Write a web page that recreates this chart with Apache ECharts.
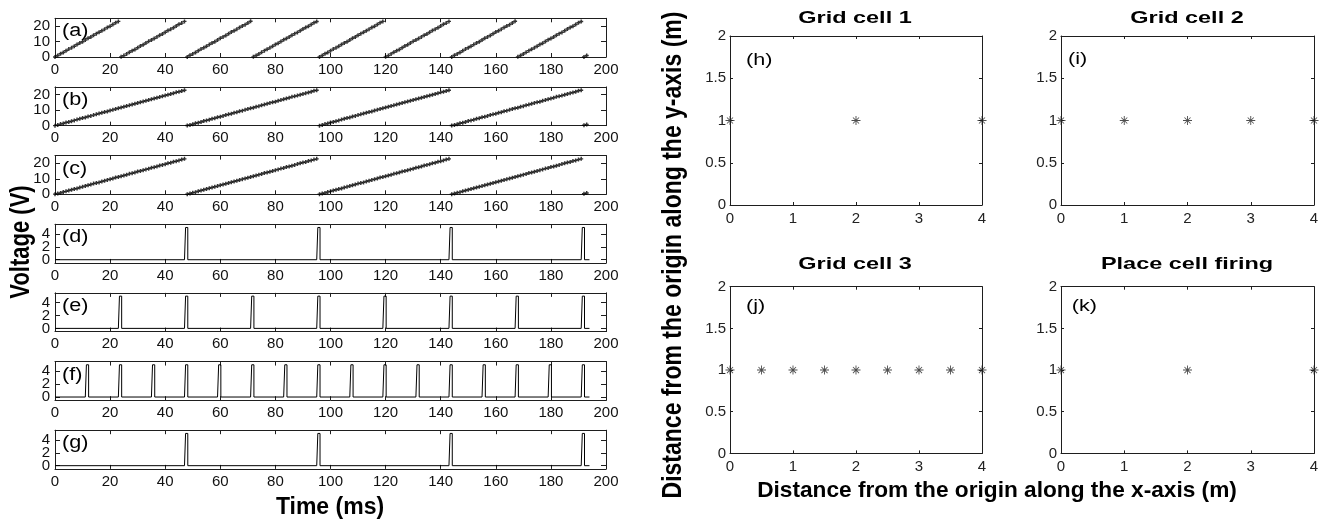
<!DOCTYPE html>
<html><head><meta charset="utf-8">
<script src="https://cdn.jsdelivr.net/npm/echarts@6/dist/echarts.min.js"></script>
<style>html,body{margin:0;padding:0;background:#fff}#c{width:1325px;height:522px}</style>
</head><body><div id="c"></div>
<script>
// ---------- DATA ----------
// membrane traces sampled every 1 ms (index = time in ms)
const sawA = [
0,1.0,2.1,2.9,4.0,5.1,5.9,7.0,8.1,9.0,9.9,11.0,12.1,12.9,14.0,15.1,16.0,16.9,18.0,19.1,19.9,21.0,22.1,23.0,
0.1,0.9,2.0,3.1,4.0,4.9,6.0,7.1,7.9,9.0,10.1,11.0,11.9,13.0,14.1,14.9,16.0,17.1,18.0,18.9,20.0,21.1,21.9,23.0,
0,1.1,2.0,2.9,4.0,5.1,6.0,6.9,8.0,9.1,9.9,11.0,12.1,13.0,13.9,15.0,16.1,16.9,18.0,19.1,20.0,20.9,22.0,23.1,
0.1,1.0,1.9,3.0,4.1,5.0,5.9,7.0,8.1,8.9,10.0,11.1,12.0,12.9,14.0,15.1,15.9,17.0,18.1,19.0,19.9,21.0,22.1,22.9,
0,1.0,2.1,2.9,4.0,5.1,5.9,7.0,8.1,9.0,9.9,11.0,12.1,12.9,14.0,15.1,16.0,16.9,18.0,19.1,19.9,21.0,22.1,23.0,
0.1,0.9,2.0,3.1,4.0,4.9,6.0,7.1,7.9,9.0,10.1,11.0,11.9,13.0,14.1,14.9,16.0,17.1,18.0,18.9,20.0,21.1,21.9,23.0,
0,1.1,2.0,2.9,4.0,5.1,6.0,6.9,8.0,9.1,9.9,11.0,12.1,13.0,13.9,15.0,16.1,16.9,18.0,19.1,20.0,20.9,22.0,23.1,
0.1,1.0,1.9,3.0,4.1,5.0,5.9,7.0,8.1,8.9,10.0,11.1,12.0,12.9,14.0,15.1,15.9,17.0,18.1,19.0,19.9,21.0,22.1,22.9,
0,1.0];
const sawB = [
0,0.5,1.0,1.4,2.0,2.4,2.9,3.4,3.9,4.4,4.9,5.3,5.9,6.3,6.8,7.3,7.8,8.3,8.8,9.2,9.8,10.2,10.7,11.2,11.7,12.2,12.7,13.1,13.7,14.1,14.6,15.1,15.6,16.1,16.6,17.0,17.6,18.0,18.5,19.0,19.5,20.0,20.5,20.9,21.5,21.9,22.4,22.9,
0.1,0.5,0.9,1.5,1.9,2.4,3.0,3.4,3.8,4.4,4.8,5.4,5.8,6.3,6.9,7.3,7.7,8.3,8.7,9.3,9.7,10.2,10.8,11.2,11.6,12.2,12.6,13.2,13.6,14.1,14.7,15.1,15.5,16.1,16.5,17.1,17.5,18.0,18.6,19.0,19.4,20.0,20.4,21.0,21.4,21.9,22.5,22.9,
0,0.5,1.0,1.4,2.0,2.4,2.9,3.4,3.9,4.4,4.9,5.3,5.9,6.3,6.8,7.3,7.8,8.3,8.8,9.2,9.8,10.2,10.7,11.2,11.7,12.2,12.7,13.1,13.7,14.1,14.6,15.1,15.6,16.1,16.6,17.0,17.6,18.0,18.5,19.0,19.5,20.0,20.5,20.9,21.5,21.9,22.4,22.9,
0.1,0.5,0.9,1.5,1.9,2.4,3.0,3.4,3.8,4.4,4.8,5.4,5.8,6.3,6.9,7.3,7.7,8.3,8.7,9.3,9.7,10.2,10.8,11.2,11.6,12.2,12.6,13.2,13.6,14.1,14.7,15.1,15.5,16.1,16.5,17.1,17.5,18.0,18.6,19.0,19.4,20.0,20.4,21.0,21.4,21.9,22.5,22.9,
0.3,0.8];
const sawC = [
0.1,0.5,0.9,1.5,1.9,2.4,3.0,3.4,3.8,4.4,4.8,5.4,5.8,6.3,6.9,7.3,7.7,8.3,8.7,9.3,9.7,10.2,10.8,11.2,11.6,12.2,12.6,13.2,13.6,14.1,14.7,15.1,15.5,16.1,16.5,17.1,17.5,18.0,18.6,19.0,19.4,20.0,20.4,21.0,21.4,21.9,22.5,22.9,
0,0.5,1.0,1.4,2.0,2.4,2.9,3.4,3.9,4.4,4.9,5.3,5.9,6.3,6.8,7.3,7.8,8.3,8.8,9.2,9.8,10.2,10.7,11.2,11.7,12.2,12.7,13.1,13.7,14.1,14.6,15.1,15.6,16.1,16.6,17.0,17.6,18.0,18.5,19.0,19.5,20.0,20.5,20.9,21.5,21.9,22.4,22.9,
0.1,0.5,0.9,1.5,1.9,2.4,3.0,3.4,3.8,4.4,4.8,5.4,5.8,6.3,6.9,7.3,7.7,8.3,8.7,9.3,9.7,10.2,10.8,11.2,11.6,12.2,12.6,13.2,13.6,14.1,14.7,15.1,15.5,16.1,16.5,17.1,17.5,18.0,18.6,19.0,19.4,20.0,20.4,21.0,21.4,21.9,22.5,22.9,
0,0.5,1.0,1.4,2.0,2.4,2.9,3.4,3.9,4.4,4.9,5.3,5.9,6.3,6.8,7.3,7.8,8.3,8.8,9.2,9.8,10.2,10.7,11.2,11.7,12.2,12.7,13.1,13.7,14.1,14.6,15.1,15.6,16.1,16.6,17.0,17.6,18.0,18.5,19.0,19.5,20.0,20.5,20.9,21.5,21.9,22.4,22.9,
0.3,0.8];
// spike onset times (ms) and pulse shape
const spikeOnsetsD = [47,95,143,191];
const spikeOnsetsE = [23,47,71,95,119,143,167,191];
const spikeOnsetsF = [11,23,35,47,59,71,83,95,107,119,131,143,155,167,179,191];
const spikeOnsetsG = [47,95,143,191];
const pulseDt = [0,0.4,1.2,1.2];
const pulseV  = [0,5,5,0];
const traceEnd = 194;
// tick labels
const timeTicks = [0,20,40,60,80,100,120,140,160,180,200];
const membraneTicks = [0,10,20];
const voltTicks = [0,2,4];
const distXTicks = [0,1,2,3,4];
const distYTicks = [0,0.5,1,1.5,2];
// place / grid cell firing positions (m)
const gridCell1X = [0,2,4];            const gridCell1Y = [1,1,1];
const gridCell2X = [0,1,2,3,4];        const gridCell2Y = [1,1,1,1,1];
const gridCell3X = [0,0.5,1,1.5,2,2.5,3,3.5,4]; const gridCell3Y = [1,1,1,1,1,1,1,1,1];
const placeCellX = [0,2,4];            const placeCellY = [1,1,1];

// ---------- BUILD ----------
const AX = '#1e1e1e';
const grids = [], xAxes = [], yAxes = [], series = [];
function labelOpt(lab, vals, margin){
  return {show:true, customValues:vals, fontFamily:lab.fontFamily, fontSize:lab.fontSize, color:lab.color,
    margin:margin, showMinLabel:true, showMaxLabel:true, hideOverlap:false};
}
// splitLabels: y tick labels drawn by two stacked axes so tightly packed labels all stay visible
function addPanel(rect, xr, yr, xt, yt, lab, tlx, tly, splitLabels){
  const g = grids.length;
  grids.push(Object.assign({show:false}, rect));
  const mk = (pos, isX, labVals) => ({
    gridIndex:g, type:'value', position:pos,
    min: isX ? xr[0] : yr[0], max: isX ? xr[1] : yr[1],
    axisLine:{show:true, onZero:false, lineStyle:{color:AX, width:1}},
    axisTick:{show:true, inside:true, length: isX ? tlx : tly, customValues: isX ? xt : yt, lineStyle:{color:AX, width:1}},
    axisLabel: labVals ? labelOpt(lab, labVals, isX ? lab.mx : lab.my) : {show:false},
    splitLine:{show:false}
  });
  const xi = xAxes.length, yi = yAxes.length;
  xAxes.push(mk('bottom', true, xt)); xAxes.push(mk('top', true, null));
  if (splitLabels) {
    yAxes.push(mk('left', false, yt.filter((v,k)=>k%2===0)));
    yAxes.push(mk('right', false, null));
    const extra = mk('left', false, yt.filter((v,k)=>k%2===1));
    extra.axisLine = {show:false, onZero:false}; extra.axisTick = {show:false}; extra.offset = 0;
    yAxes.push(extra);
  } else {
    yAxes.push(mk('left', false, yt)); yAxes.push(mk('right', false, null));
  }
  return [xi, yi];
}
const leftLab = {fontFamily:'"Liberation Sans", Arial, sans-serif', fontSize:15, color:'#111', mx:5, my:5};
const rightLab = {fontFamily:'"Liberation Sans", Arial, sans-serif', fontSize:15, color:'#222', mx:6, my:4};
const plusSym = 'path://M0,1.6H5V3.4H0ZM1.6,0H3.4V5H1.6Z';
const starSym = 'path://M0,4.5H10V5.5H0ZM4.5,0H5.5V10H4.5ZM1.3,1.95L1.95,1.3L8.7,8.05L8.05,8.7ZM8.05,1.3L8.7,1.95L1.95,8.7L1.3,8.05Z';

const leftTops = [18.3, 86.95, 155.6, 224.25, 292.9, 361.55, 430.2];
const leftRect = i => ({left:55, top:leftTops[i], width:551, height:38.7});
function sawSeries(ax, arr){
  series.push({type:'scatter', xAxisIndex:ax[0], yAxisIndex:ax[1], symbol:plusSym, symbolSize:4, clip:false,
    itemStyle:{color:'#000'}, data: arr.map((v,i)=>[i,v])});
}
function pulseSeries(ax, onsets){
  const d = [[0,0]];
  onsets.forEach(t => pulseDt.forEach((dt,k) => d.push([t+dt, pulseV[k]])));
  d.push([traceEnd,0]);
  series.push({type:'line', xAxisIndex:ax[0], yAxisIndex:ax[1], showSymbol:false, symbol:'none',
    lineStyle:{color:'#000', width:1}, data:d});
}
[sawA, sawB, sawC].forEach((arr,i) => {
  const ax = addPanel(leftRect(i), [0,200], [0,25], timeTicks, membraneTicks, leftLab, 4, 5, false);
  sawSeries(ax, arr);
});
[spikeOnsetsD, spikeOnsetsE, spikeOnsetsF, spikeOnsetsG].forEach((on,i) => {
  const ax = addPanel(leftRect(i+3), [0,200], [-0.5,5.5], timeTicks, voltTicks, leftLab, 4, 5, true);
  pulseSeries(ax, on);
});
const rightRects = [
  {left:730, top:36, width:252, height:169},
  {left:1061, top:36, width:253, height:169},
  {left:730, top:286.7, width:252, height:166.7},
  {left:1061, top:286.7, width:253, height:166.7}
];
[[gridCell1X,gridCell1Y],[gridCell2X,gridCell2Y],[gridCell3X,gridCell3Y],[placeCellX,placeCellY]].forEach((p,i) => {
  const ax = addPanel(rightRects[i], [0,4], [0,2], distXTicks, distYTicks, rightLab, 3, 3, false);
  series.push({type:'scatter', xAxisIndex:ax[0], yAxisIndex:ax[1], symbol:starSym, symbolSize:9, clip:false,
    itemStyle:{color:'#222'}, data: p[0].map((x,k)=>[x,p[1][k]])});
});

function txt(text, x, y, font, opts){
  return Object.assign({type:'text', x:x, y:y, silent:true,
    style:{text:text, font:font, fill:'#000', align:'center', verticalAlign:'middle', textAlign:'center', textVerticalAlign:'middle'}}, opts||{});
}
const LS = '"Liberation Sans", Arial, sans-serif';
const graphics = [
  txt('Time (ms)', 330, 508, 'bold 23px ' + LS),
  txt('Voltage (V)', 21.7, 242, 'bold 22px ' + LS, {rotation:Math.PI/2, scaleY:1.25}),
  txt('Distance from the origin along the x-axis (m)', 997, 491, 'bold 22px ' + LS, {scaleX:1.03}),
  txt('Distance from the origin along the y-axis (m)', 673, 255, 'bold 23px ' + LS, {rotation:Math.PI/2, scaleY:1.22}),
  txt('Grid cell 1', 855, 18, 'bold 17px ' + LS, {scaleX:1.38}),
  txt('Grid cell 2', 1187, 18, 'bold 17px ' + LS, {scaleX:1.38}),
  txt('Grid cell 3', 855, 264, 'bold 17px ' + LS, {scaleX:1.38}),
  txt('Place cell firing', 1187, 264, 'bold 17px ' + LS, {scaleX:1.38})
];
['(a)','(b)','(c)','(d)','(e)','(f)','(g)'].forEach((s,i) => {
  const t = txt(s, 62, leftTops[i] + 13, '18px ' + LS, {scaleX:1.2});
  t.style.align = 'left'; t.style.textAlign = 'left';
  graphics.push(t);
});
[['(h)',746,60.7],['(i)',1068,60],['(j)',746,306.7],['(k)',1071.7,306.7]].forEach(a => {
  const t = txt(a[0], a[1], a[2], '16px ' + LS, {scaleX:1.35});
  t.style.align = 'left'; t.style.textAlign = 'left';
  graphics.push(t);
});

const chart = echarts.init(document.getElementById('c'), null, {renderer:'canvas'});
chart.setOption({
  animation:false, backgroundColor:'#fff',
  grid:grids, xAxis:xAxes, yAxis:yAxes, series:series, graphic:graphics
});
</script></body></html>
